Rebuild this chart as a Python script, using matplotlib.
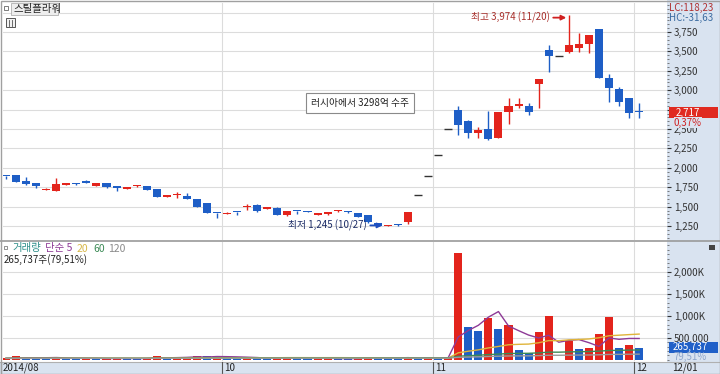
import matplotlib
matplotlib.use("Agg")
import matplotlib.pyplot as plt
import matplotlib.transforms as mtransforms
from matplotlib.patches import Rectangle
from matplotlib.lines import Line2D
from matplotlib.ticker import MultipleLocator
import pandas as pd

plt.rcParams['font.family'] = ['Noto Sans CJK KR', 'DejaVu Sans']
plt.rcParams['font.size'] = 7

# daily candles 2014-08-27 .. 2014-12-01
opens = [1900, 1905, 1830, 1805, 1720, 1700, 1780, 1795, 1830, 1765,
         1805, 1765, 1730, 1760, 1765, 1727, 1625, 1645, 1637, 1598,
         1546, 1420, 1410, 1430, 1500, 1525, 1470, 1485, 1395, 1445,
         1445, 1395, 1400, 1440, 1435, 1415, 1390, 1290, 1245, 1265,
         1300, 1645, 1890, 2170, 2495, 2745, 2605, 2450, 2500, 2385,
         2720, 2795, 2795, 3080, 3520, 3440, 3490, 3540, 3595, 3790,
         3160, 3015, 2900, 2725]
highs = [1900, 1910, 1880, 1805, 1735, 1870, 1810, 1800, 1840, 1810,
         1810, 1770, 1755, 1780, 1770, 1730, 1655, 1690, 1675, 1600,
         1550, 1420, 1425, 1430, 1535, 1530, 1495, 1490, 1445, 1445,
         1450, 1420, 1435, 1455, 1440, 1420, 1395, 1295, 1260, 1270,
         1435, 1645, 1890, 2170, 2495, 2795, 2610, 2525, 2730, 2725,
         2900, 2900, 2835, 3150, 3585, 3440, 3974, 3740, 3715, 3790,
         3210, 3040, 2905, 2835]
lows = [1850, 1815, 1785, 1740, 1715, 1700, 1775, 1785, 1800, 1760,
        1740, 1700, 1725, 1755, 1710, 1620, 1620, 1610, 1595, 1495,
        1415, 1353, 1405, 1390, 1455, 1435, 1465, 1390, 1380, 1410,
        1425, 1390, 1395, 1435, 1415, 1365, 1295, 1250, 1245, 1255,
        1275, 1645, 1890, 2170, 2495, 2420, 2385, 2385, 2365, 2380,
        2565, 2770, 2680, 2770, 3235, 3440, 3480, 3490, 3480, 3155,
        2850, 2795, 2640, 2640]
closes = [1890, 1820, 1790, 1765, 1730, 1790, 1805, 1790, 1805, 1805,
          1755, 1740, 1750, 1765, 1715, 1625, 1650, 1655, 1598, 1500,
          1418, 1415, 1420, 1425, 1510, 1440, 1490, 1395, 1440, 1440,
          1435, 1415, 1430, 1445, 1430, 1370, 1300, 1255, 1255, 1260,
          1430, 1645, 1890, 2170, 2495, 2550, 2450, 2490, 2370, 2720,
          2795, 2820, 2720, 3145, 3440, 3440, 3585, 3595, 3710, 3160,
          3030, 2850, 2707, 2717]
volumes = [40000, 75000, 45000, 35000, 30000, 60000, 35000, 20000, 30000, 25000,
           30000, 35000, 25000, 20000, 35000, 95000, 40000, 45000, 50000, 90000,
           80000, 95000, 30000, 25000, 55000, 40000, 25000, 30000, 70000, 30000,
           20000, 25000, 30000, 25000, 20000, 35000, 60000, 55000, 30000, 25000,
           65000, 15000, 60000, 30000, 55000, 2425000, 750000, 650000, 955000, 690000,
           790000, 220000, 145000, 622000, 1000000, 0, 430000, 235000, 270000, 575000,
           965000, 270000, 334218, 265737]
prior_volume = 30000  # rough level before the window, only seeds the long averages

month_labels = ['2014/08', '10', '11', '12']
month_idx = [0, 22, 43, 63]
price_ticks = [1250, 1500, 1750, 2000, 2250, 2500, 2750, 3000, 3250, 3500, 3750]
grid_prices = price_ticks + [4000]
volume_ticks = [500000, 1000000, 1500000, 2000000]
volume_tick_labels = ['500,000', '1,000K', '1,500K', '2,000K']
ma_windows = [5, 20, 60, 120]
ma_colors = ['#8e3a96', '#e0b43a', '#3b8a55', '#9a9a9a']

RED = '#e3241c'
BLUE = '#1e5ec6'
DASH = '#333333'
GRID = '#dcdcdc'
PANEL = '#d9e3f0'
W, H = 720, 374


def fx(x):
    return x / W


def fy(y):
    return 1 - y / H


def rect_px(x0, y0, x1, y1, **kw):
    r = Rectangle((fx(x0), fy(y1)), (x1 - x0) / W, (y1 - y0) / H,
                  transform=fig.transFigure, **kw)
    fig.add_artist(r)
    return r


def text_px(x, y, s, **kw):
    kw.setdefault('va', 'center')
    kw.setdefault('fontsize', 7)
    return fig.text(fx(x), fy(y), s, **kw)


fig = plt.figure(figsize=(W / 100, H / 100), dpi=100, facecolor='white')

# right scale column and date bar
rect_px(667, 0, W, H, facecolor=PANEL, edgecolor='none', zorder=-1)
rect_px(0, 362, W, H, facecolor=PANEL, edgecolor='none', zorder=-1)

step = 10.05
xlim = ((3 - 6) / step, (667 - 6) / step)
idx = list(range(len(closes)))

ax = fig.add_axes([fx(3), fy(240), (667 - 3) / W, (240 - 3) / H])
axv = fig.add_axes([fx(3), fy(361), (667 - 3) / W, (361 - 242) / H])

# ---- price panel
for p in grid_prices:
    ax.axhline(p, color=GRID, lw=0.8, zorder=0)
for m in month_idx[1:]:
    ax.axvline(m - 0.5, color=GRID, lw=0.8, zorder=0)
    axv.axvline(m - 0.5, color=GRID, lw=0.8, zorder=0)

for i, (o, h, l, c) in enumerate(zip(opens, highs, lows, closes)):
    col = RED if c > o else BLUE if c < o else DASH
    ax.vlines(i, l, h, color=col, lw=1, zorder=2)
    if c == o:
        ax.hlines(c, i - 0.4, i + 0.4, color=col, lw=1, zorder=3)
    else:
        ax.bar(i, max(abs(c - o), 13), bottom=min(o, c), width=0.8,
               color=col, lw=0, zorder=3)

ax.set_xlim(*xlim)
ax.set_ylim(1070, 4124)
ax.yaxis.tick_right()
ax.set_yticks(price_ticks)
# the 2,750 label sits under the current-price box
ax.set_yticklabels(['' if t == 2750 else f'{t:,}' for t in price_ticks])
ax.yaxis.set_minor_locator(MultipleLocator(50))
ax.tick_params(axis='y', which='major', length=3, pad=2, labelsize=7,
               colors='#333333', direction='out')
ax.tick_params(axis='y', which='minor', length=1.5, color='#666666')
ax.tick_params(axis='x', bottom=False, labelbottom=False)
for s in ax.spines.values():
    s.set_visible(False)

# high / low notes
hi = highs.index(max(highs))
lo = lows.index(min(lows))
ppx = (4124 - 1070) / 237
ax.annotate(f'최고 {max(highs):,} (11/20)', xy=(hi, max(highs)), xytext=(-19, -3),
            textcoords='offset pixels', ha='right', va='center', color='#a8302c', fontsize=7)
ax.annotate('', xy=(hi - 0.25, max(highs) - 3 * ppx), xytext=(hi - 1.55, max(highs) - 3 * ppx),
            arrowprops=dict(arrowstyle='-|>', color='#d02020', lw=1.3, mutation_scale=7,
                            shrinkA=0, shrinkB=0))
ax.annotate(f'최저 {min(lows):,} (10/27)', xy=(lo, min(lows)), xytext=(-21, 1),
            textcoords='offset pixels', ha='right', va='center', color='#1c2c66', fontsize=7)
ax.annotate('', xy=(lo - 0.55, min(lows) + 1 * ppx), xytext=(lo - 1.75, min(lows) + 1 * ppx),
            arrowprops=dict(arrowstyle='-|>', color='#1e4fc0', lw=1.3, mutation_scale=7,
                            shrinkA=0, shrinkB=0))
ax.text(35.2, 2835, '러시아에서 3298억 수주', ha='center', va='center', fontsize=7,
        color='#222222', zorder=6,
        bbox=dict(boxstyle='square,pad=0.5', facecolor='white', edgecolor='#8a8a8a', lw=0.8))

# ---- volume panel
for v in volume_ticks:
    axv.axhline(v, color=GRID, lw=0.8, zorder=0)
vcol = [RED] + [RED if v >= p else BLUE for p, v in zip(volumes[:-1], volumes[1:])]
axv.bar(idx, volumes, width=0.8, color=vcol, lw=0, zorder=2)
vol = pd.Series(volumes, dtype=float)
for w, col in zip(ma_windows, ma_colors):
    seeded = pd.concat([pd.Series([prior_volume] * (w - 1), dtype=float), vol], ignore_index=True)
    ma = seeded.rolling(w).mean().iloc[w - 1:].to_numpy()
    axv.plot(idx, ma, color=col, lw=1, zorder=3)

axv.set_xlim(*xlim)
axv.set_ylim(-29545, 2675000)
axv.yaxis.tick_right()
axv.set_yticks(volume_ticks)
axv.set_yticklabels(volume_tick_labels)
axv.yaxis.set_minor_locator(MultipleLocator(100000))
axv.tick_params(axis='y', which='major', length=3, pad=2, labelsize=7,
                colors='#333333', direction='out')
axv.tick_params(axis='y', which='minor', length=1.5, color='#666666')
axv.tick_params(axis='x', bottom=False, labelbottom=False)
for s in axv.spines.values():
    s.set_visible(False)

# ---- frame lines
fig.add_artist(Line2D([0, 1], [fy(241), fy(241)], transform=fig.transFigure, color='#9a9a9a', lw=1.2))
fig.add_artist(Line2D([0, 1], [fy(362), fy(362)], transform=fig.transFigure, color='#b0b0b0', lw=0.8))
rect_px(0.5, 0.5, W - 0.5, H - 0.5, facecolor='none', edgecolor='#a0a0a0', lw=1, zorder=8)

# ---- date bar
tr = mtransforms.blended_transform_factory(axv.transData, fig.transFigure)
tr_lab = mtransforms.offset_copy(tr, fig=fig, x=2, y=0, units='dots')
for lab, m in zip(month_labels, month_idx):
    fig.add_artist(Line2D([m - 0.5, m - 0.5], [fy(362), fy(374)], transform=tr, color='#555555', lw=0.8))
    fig.text(m - 0.5, fy(368), lab, transform=tr_lab, fontsize=7, va='center', color='#222222')
text_px(672, 368, '12/01', color='#222222')

# ---- right column labels
text_px(669, 8, 'LC:118,23', color='#b03030')
text_px(669, 18, 'HC:-31,63', color='#3a6aa0')
rect_px(669, 106.5, 718, 118, facecolor='#e02a20', edgecolor='none', zorder=5)
text_px(676, 112.5, f'{closes[-1]:,}', color='white', zorder=6)
chg = (closes[-1] / closes[-2] - 1) * 100
text_px(674, 122.5, f'{chg:.2f}%'.replace('.', ','), color='#d02020', zorder=6,
        bbox=dict(boxstyle='square,pad=0.05', facecolor=PANEL, edgecolor='none'))
rect_px(669, 342, 718, 352.5, facecolor='#2060c8', edgecolor='none', zorder=5)
text_px(673, 347.2, f'{volumes[-1]:,}', color='white', zorder=6)
vchg = volumes[-1] / volumes[-2] * 100
text_px(673, 357, f'{vchg:.2f}%'.replace('.', ','), color='#8ea6cc', zorder=6)
rect_px(709, 245, 715, 250, facecolor='#444444', edgecolor='none', zorder=6)

# ---- top-left title block
rect_px(3.5, 6, 7.5, 10, facecolor='white', edgecolor='#666666', lw=0.6, zorder=6)
rect_px(11, 3, 58, 15, facecolor='#eeeeee', edgecolor='#b0b0b0', lw=0.6, zorder=6)
text_px(14, 9, '스틸플라워', color='#222222', fontsize=7.5, zorder=7)
rect_px(6, 18, 15, 27, facecolor='#f2f2f2', edgecolor='#555555', lw=0.7, zorder=6)
for xx in (9, 12):
    fig.add_artist(Line2D([fx(xx), fx(xx)], [fy(19.5), fy(25.5)], transform=fig.transFigure,
                          color='#555555', lw=0.6, zorder=7))

# ---- volume legend
rect_px(4, 246, 7, 249, facecolor='white', edgecolor='#666666', lw=0.5, zorder=6)
for s, xx, col in [('거래량', 12, '#2e8f8a'), ('단순 5', 45, '#8e3a96'), ('20', 77, '#d8b84a'),
                   ('60', 93, '#3b8a55'), ('120', 108, '#8a8a8a')]:
    text_px(xx, 248.5, s, color=col, fontsize=7.5)
text_px(4, 260, f'{volumes[-1]:,}주({vchg:.2f}%)'.replace('.', ','), color='#222222', fontsize=7)

fig.savefig('out.png', dpi=100)
